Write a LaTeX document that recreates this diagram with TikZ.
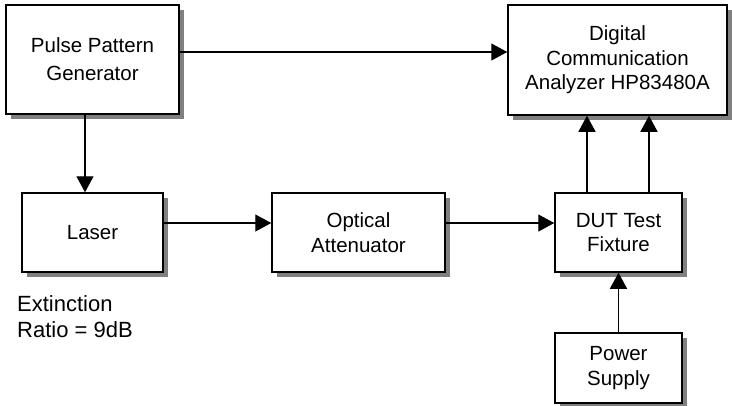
\documentclass[tikz,border=0pt]{standalone}
\usepackage{fontspec}
\setmainfont{Liberation Sans}
\usetikzlibrary{arrows.meta,shadows}
\begin{document}
\begin{tikzpicture}[x=1pt,y=-1pt,
  blk/.style={draw=black,line width=1.5pt,fill=white,align=center,inner sep=0pt,
    font=\fontsize{20.5}{24.5}\selectfont,
    drop shadow={shadow xshift=4.5pt,shadow yshift=-4.5pt,fill=black!50,opacity=1}},
  arr/.style={line width=1.3pt,-{Triangle[length=16pt,width=17pt]}},
  lbl/.style={align=left,inner sep=0pt,font=\fontsize{22}{26}\selectfont}]
\useasboundingbox (0,0) rectangle (732,405);
\node[blk,minimum width=173pt,minimum height=109pt,font=\fontsize{20.5}{28}\selectfont] (ppg) at (92.5,59.5) {Pulse Pattern\\Generator};
\node[blk,minimum width=219pt,minimum height=110pt] (dca) at (617.5,60) {Digital\\Communication\\Analyzer HP83480A};
\node[blk,minimum width=141pt,minimum height=79pt] (laser) at (92.5,232.5) {Laser};
\node[blk,minimum width=173pt,minimum height=79pt] (oa) at (358.5,232.5) {Optical\\Attenuator};
\node[blk,minimum width=127pt,minimum height=79pt] (dut) at (618.5,232.5) {DUT Test\\Fixture};
\node[blk,minimum width=127pt,minimum height=70pt] (ps) at (618.5,368) {Power\\Supply};
\node[lbl,anchor=north west] (ext) at (17,295) {Extinction\\Ratio = 9dB};
\draw[arr] ([yshift=7.5pt]ppg.east) -- ([yshift=7.5pt]ppg.east -| dca.west);
\draw[arr] ([xshift=-7.5pt]ppg.south) -- ([xshift=-7.5pt]laser.north);
\draw[arr] ([yshift=9.5pt]laser.east) -- ([yshift=9.5pt]oa.west);
\draw[arr] ([yshift=9.5pt]oa.east) -- ([yshift=9.5pt]dut.west);
\draw[arr] ([xshift=-31.5pt]dut.north) -- ([xshift=-31.5pt]dut.north |- dca.south);
\draw[arr] ([xshift=30.5pt]dut.north) -- ([xshift=30.5pt]dut.north |- dca.south);
\draw[arr] (ps.north) -- (dut.south);
\end{tikzpicture}
\end{document}
